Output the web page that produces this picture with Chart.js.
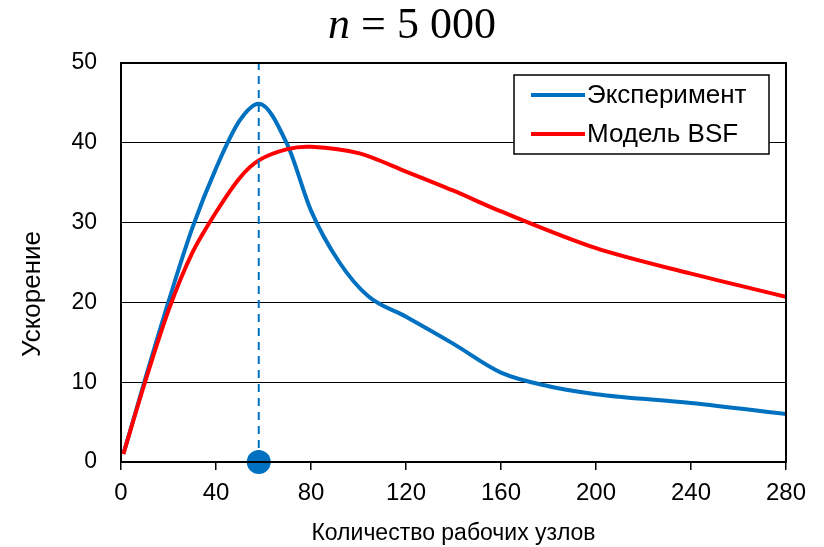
<!DOCTYPE html>
<html lang="ru">
<head>
    <meta charset="UTF-8">
    <script src="https://cdn.jsdelivr.net/npm/chart.js"></script>
    <title>n = 5 000</title>
    <style>
        body { margin: 0; background: #fff; }
        #wrap { width: 824px; height: 547px; }
    </style>
</head>
<body>
    <div id="wrap">
        <canvas id="speedupChart"></canvas>
    </div>

    <script>
    // data
    const seriesNames = ['Эксперимент', 'Модель BSF'];
    const expNodes = [1, 10, 20, 30, 40, 50, 58, 70, 80, 92, 104, 120, 140, 160, 180, 200, 240, 280];
    const expSpeedup = [1, 10.2, 20.1, 29.3, 36.8, 42.8, 44.9, 39.8, 31.5, 25, 20.8, 18.2, 14.8, 11.2, 9.5, 8.5, 7.4, 6.0];
    const bsfNodes = [1, 10, 20, 30, 40, 50, 58, 70, 80, 100, 120, 140, 160, 200, 240, 280];
    const bsfSpeedup = [1, 9.9, 19, 26.2, 31.3, 35.6, 37.8, 39.2, 39.5, 38.7, 36.4, 34, 31.4, 26.8, 23.6, 20.7];
    const optimumNodes = 58;
    const xTicks = [0, 40, 80, 120, 160, 200, 240, 280];
    const yTicks = [0, 10, 20, 30, 40, 50];

    const blue = '#0070C0';
    const red = '#FF0000';

    function toPoints(xs, ys) {
        return xs.map((x, i) => ({x: x, y: ys[i]}));
    }

    // title, y title, frame and legend drawn by hand
    const decorations = {
        id: 'decorations',
        afterDraw(chart) {
            const ctx = chart.ctx;
            const area = chart.chartArea;
            ctx.save();

            // frame
            ctx.strokeStyle = '#000';
            ctx.lineWidth = 2;
            ctx.strokeRect(area.left, area.top, area.right - area.left, area.bottom - area.top);

            // title: italic n, upright rest
            ctx.fillStyle = '#000';
            ctx.textBaseline = 'alphabetic';
            ctx.textAlign = 'left';
            const p1 = 'n', p2 = ' = 5 000';
            ctx.font = 'italic 44px "Liberation Serif"';
            const w1 = ctx.measureText(p1).width;
            ctx.font = '44px "Liberation Serif"';
            const w2 = ctx.measureText(p2).width;
            const tx = 412 - (w1 + w2) / 2;
            ctx.font = 'italic 44px "Liberation Serif"';
            ctx.fillText(p1, tx, 38);
            ctx.font = '44px "Liberation Serif"';
            ctx.fillText(p2, tx + w1, 38);

            // y axis title
            ctx.save();
            ctx.translate(33, 294);
            ctx.rotate(-Math.PI / 2);
            ctx.font = '26px "Liberation Sans"';
            ctx.textAlign = 'center';
            ctx.textBaseline = 'middle';
            ctx.fillText('Ускорение', 0, 0);
            ctx.restore();

            // legend box
            const lx = 514, ly = 75, lw = 255, lh = 79;
            ctx.fillStyle = '#fff';
            ctx.fillRect(lx, ly, lw, lh);
            ctx.lineWidth = 1.5;
            ctx.strokeStyle = '#000';
            ctx.strokeRect(lx, ly, lw, lh);
            const colors = [blue, red];
            const rows = [95, 134];
            ctx.font = '26px "Liberation Sans"';
            ctx.textAlign = 'left';
            ctx.textBaseline = 'middle';
            seriesNames.forEach((name, i) => {
                ctx.strokeStyle = colors[i];
                ctx.lineWidth = 4;
                ctx.beginPath();
                ctx.moveTo(531, rows[i]);
                ctx.lineTo(585, rows[i]);
                ctx.stroke();
                ctx.fillStyle = '#000';
                ctx.fillText(name, 587, rows[i] + 1);
            });
            ctx.restore();
        }
    };

    const ctx = document.getElementById('speedupChart');

    new Chart(ctx, {
        type: 'scatter',
        data: {
            datasets: [{
                label: seriesNames[0],
                data: toPoints(expNodes, expSpeedup),
                showLine: true,
                borderColor: blue,
                borderWidth: 4,
                pointRadius: 0,
                cubicInterpolationMode: 'monotone',
                order: 2
            }, {
                label: seriesNames[1],
                data: toPoints(bsfNodes, bsfSpeedup),
                showLine: true,
                borderColor: red,
                borderWidth: 4,
                pointRadius: 0,
                tension: 0.3,
                order: 1
            }, {
                label: 'optimum',
                data: [{x: optimumNodes, y: 0}, {x: optimumNodes, y: 50}],
                showLine: true,
                borderColor: blue,
                borderWidth: 2,
                borderDash: [8, 6],
                pointRadius: [12, 0],
                pointBackgroundColor: blue,
                pointBorderWidth: 0,
                clip: false,
                order: 0
            }]
        },
        options: {
            responsive: true,
            maintainAspectRatio: false,
            animation: false,
            layout: {
                padding: {top: 63, right: 38, left: 0, bottom: 0}
            },
            plugins: {
                legend: {display: false},
                title: {display: false},
                tooltip: {enabled: false}
            },
            scales: {
                x: {
                    type: 'linear',
                    min: 0,
                    max: 280,
                    afterBuildTicks: (s) => { s.ticks = xTicks.map(v => ({value: v})); },
                    afterFit: (s) => { s.height = 85; },
                    grid: {
                        drawOnChartArea: false,
                        drawTicks: true,
                        tickLength: 8,
                        color: '#000',
                        lineWidth: 1.5
                    },
                    border: {color: '#000', width: 2},
                    ticks: {
                        color: '#000',
                        font: {family: 'Liberation Sans', size: 24},
                        padding: 9,
                        maxRotation: 0
                    },
                    title: {
                        display: true,
                        text: 'Количество рабочих узлов',
                        color: '#000',
                        font: {family: 'Liberation Sans', size: 23},
                        padding: {top: 4, bottom: 0}
                    }
                },
                y: {
                    min: 0,
                    max: 50,
                    afterBuildTicks: (s) => { s.ticks = yTicks.map(v => ({value: v})); },
                    afterFit: (s) => { s.width = 121; },
                    grid: {
                        color: '#000',
                        lineWidth: 1,
                        drawTicks: false
                    },
                    border: {color: '#000', width: 2},
                    ticks: {
                        color: '#000',
                        font: {family: 'Liberation Sans', size: 23},
                        padding: 24
                    }
                }
            }
        },
        plugins: [decorations]
    });
    </script>
</body>
</html>
